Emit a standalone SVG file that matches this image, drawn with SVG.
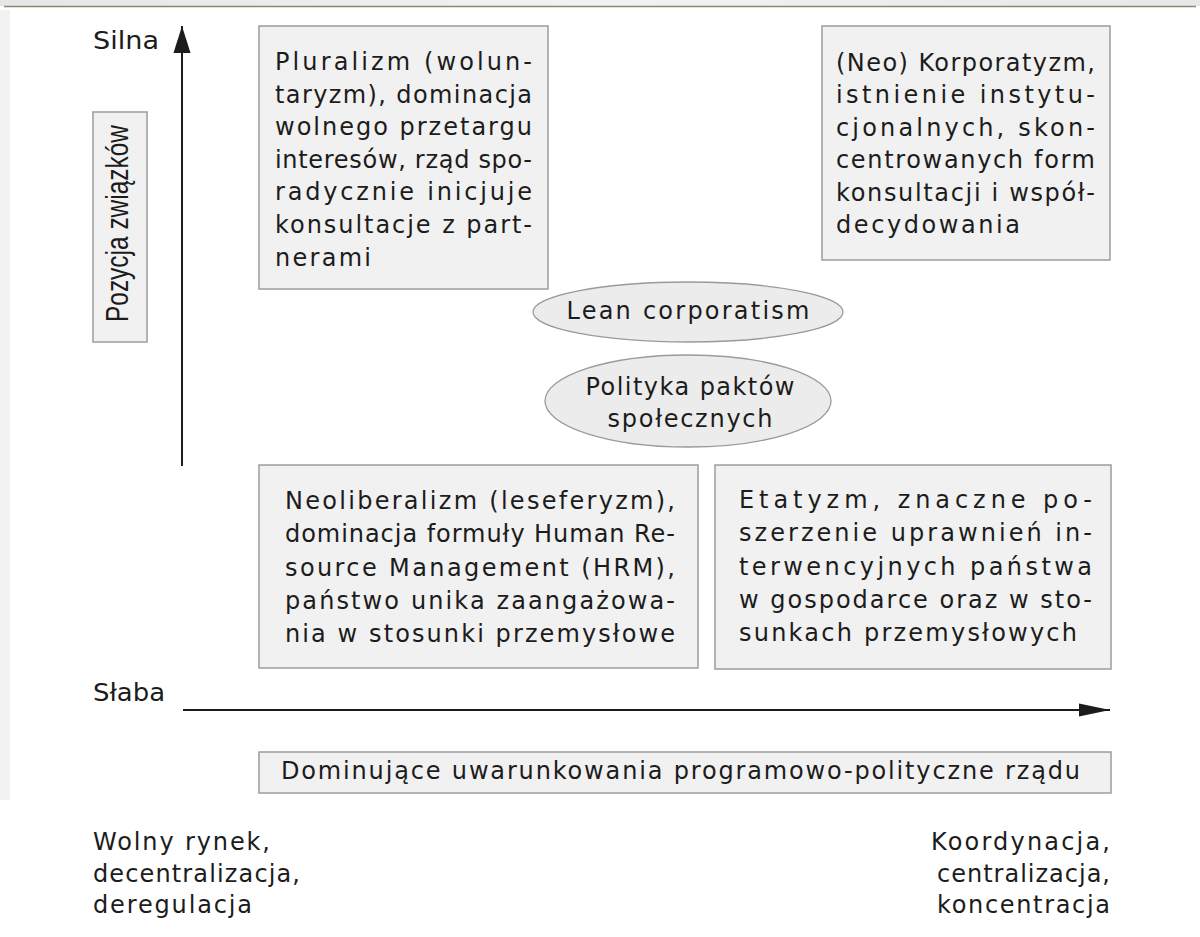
<svg xmlns="http://www.w3.org/2000/svg" width="1200" height="937" viewBox="0 0 1200 937">
<style>
text{font-family:"DejaVu Sans","Liberation Sans",Arial,sans-serif;font-size:24px;fill:#1c1c1c}
.box{fill:#f1f1f1;stroke:#9c9c9c;stroke-width:1.5}
.ell{fill:#ececec;stroke:#9a9a9a;stroke-width:1.3}
.axis{stroke:#1c1c1c;stroke-width:2;fill:none}
.j{letter-spacing:0}
</style>
<defs>
<marker id="headV" markerUnits="userSpaceOnUse" markerWidth="28" markerHeight="18" refX="27" refY="9" orient="auto">
<path d="M0,0.5 L27,9 L0,17.5 Z" fill="#1c1c1c"/>
</marker>
<marker id="headH" markerUnits="userSpaceOnUse" markerWidth="32" markerHeight="14" refX="31" refY="7" orient="auto">
<path d="M0,0.5 L31,7 L0,13.5 Z" fill="#1c1c1c"/>
</marker>
<linearGradient id="topband" x1="0" y1="0" x2="1" y2="0">
<stop offset="0" stop-color="#e6e6e6"/>
<stop offset="0.5" stop-color="#f2f2f2"/>
<stop offset="1" stop-color="#e8e8e8"/>
</linearGradient>
</defs>
<rect x="0" y="0" width="1200" height="937" fill="#ffffff"/>
<rect x="0" y="0" width="1200" height="6" fill="url(#topband)"/>
<rect x="0" y="10" width="10" height="790" fill="#f4f1f1"/>
<line x1="4" y1="6.5" x2="1196" y2="6.5" stroke="#8c8672" stroke-width="1.6"/>

<g id="connectors">
<line class="axis" x1="182" y1="466" x2="182" y2="26" marker-end="url(#headV)"/>
<line class="axis" x1="183" y1="710" x2="1110" y2="710" marker-end="url(#headH)"/>
</g>

<g id="label-silna"><text x="93" y="49" textLength="66" lengthAdjust="spacingAndGlyphs">Silna</text></g>
<g id="label-slaba"><text x="93" y="701" textLength="72" lengthAdjust="spacingAndGlyphs">Słaba</text></g>

<g id="axis-y-label">
<rect class="box" x="93" y="112" width="54" height="230"/>
<text transform="translate(128,322) rotate(-90)" x="0" y="0" style="font-family:'Liberation Sans',Arial,sans-serif;font-size:31px" textLength="197" lengthAdjust="spacingAndGlyphs">Pozycja związków</text>
</g>

<g id="pluralizm">
<rect class="box" x="259" y="26" width="289" height="263"/>
<text x="275" y="70" textLength="257" lengthAdjust="spacing">Pluralizm (wolun-</text>
<text x="275" y="103" textLength="257" lengthAdjust="spacing">taryzm), dominacja</text>
<text x="275" y="135" textLength="257" lengthAdjust="spacing">wolnego przetargu</text>
<text x="275" y="168" textLength="257" lengthAdjust="spacing">interesów, rząd spo-</text>
<text x="275" y="200" textLength="257" lengthAdjust="spacing">radycznie inicjuje</text>
<text x="275" y="233" textLength="257" lengthAdjust="spacing">konsultacje z part-</text>
<text x="275" y="266" textLength="96" lengthAdjust="spacing">nerami</text>
</g>

<g id="korporatyzm">
<rect class="box" x="822" y="26" width="288" height="234"/>
<text x="836" y="71" textLength="259" lengthAdjust="spacing">(Neo) Korporatyzm,</text>
<text x="836" y="103" textLength="259" lengthAdjust="spacing">istnienie instytu-</text>
<text x="836" y="136" textLength="259" lengthAdjust="spacing">cjonalnych, skon-</text>
<text x="836" y="168" textLength="259" lengthAdjust="spacing">centrowanych form</text>
<text x="836" y="201" textLength="259" lengthAdjust="spacing">konsultacji i współ-</text>
<text x="836" y="233" textLength="184" lengthAdjust="spacing">decydowania</text>
</g>

<g id="lean-corporatism">
<ellipse class="ell" cx="688" cy="312" rx="155" ry="30"/>
<text x="688" y="319" text-anchor="middle" textLength="243" lengthAdjust="spacing">Lean corporatism</text>
</g>

<g id="polityka-paktow">
<ellipse class="ell" cx="688" cy="401" rx="143" ry="46"/>
<text x="690" y="395" text-anchor="middle" textLength="209" lengthAdjust="spacing">Polityka paktów</text>
<text x="690" y="427" text-anchor="middle" textLength="165" lengthAdjust="spacing">społecznych</text>
</g>

<g id="neoliberalizm">
<rect class="box" x="259" y="465" width="439" height="203"/>
<text x="285" y="509" textLength="390" lengthAdjust="spacing">Neoliberalizm (leseferyzm),</text>
<text x="285" y="542" textLength="390" lengthAdjust="spacing">dominacja formuły Human Re-</text>
<text x="285" y="576" textLength="390" lengthAdjust="spacing">source Management (HRM),</text>
<text x="285" y="609" textLength="390" lengthAdjust="spacing">państwo unika zaangażowa-</text>
<text x="285" y="642" textLength="390" lengthAdjust="spacing">nia w stosunki przemysłowe</text>
</g>

<g id="etatyzm">
<rect class="box" x="715" y="465" width="396" height="204"/>
<text x="739" y="508" textLength="353" lengthAdjust="spacing">Etatyzm, znaczne po-</text>
<text x="739" y="541" textLength="353" lengthAdjust="spacing">szerzenie uprawnień in-</text>
<text x="739" y="575" textLength="353" lengthAdjust="spacing">terwencyjnych państwa</text>
<text x="739" y="608" textLength="353" lengthAdjust="spacing">w gospodarce oraz w sto-</text>
<text x="739" y="641" textLength="338" lengthAdjust="spacing">sunkach przemysłowych</text>
</g>

<g id="dominujace">
<rect class="box" x="259" y="752" width="852" height="41"/>
<text x="281" y="779" textLength="799" lengthAdjust="spacing">Dominujące uwarunkowania programowo-polityczne rządu</text>
</g>

<g id="label-left">
<text x="93" y="850" textLength="177" lengthAdjust="spacing">Wolny rynek,</text>
<text x="93" y="882" textLength="207" lengthAdjust="spacing">decentralizacja,</text>
<text x="93" y="913" textLength="159" lengthAdjust="spacing">deregulacja</text>
</g>

<g id="label-right">
<text x="1110" y="850" text-anchor="end" textLength="179" lengthAdjust="spacing">Koordynacja,</text>
<text x="1110" y="882" text-anchor="end" textLength="173" lengthAdjust="spacing">centralizacja,</text>
<text x="1110" y="913" text-anchor="end" textLength="173" lengthAdjust="spacing">koncentracja</text>
</g>
</svg>
